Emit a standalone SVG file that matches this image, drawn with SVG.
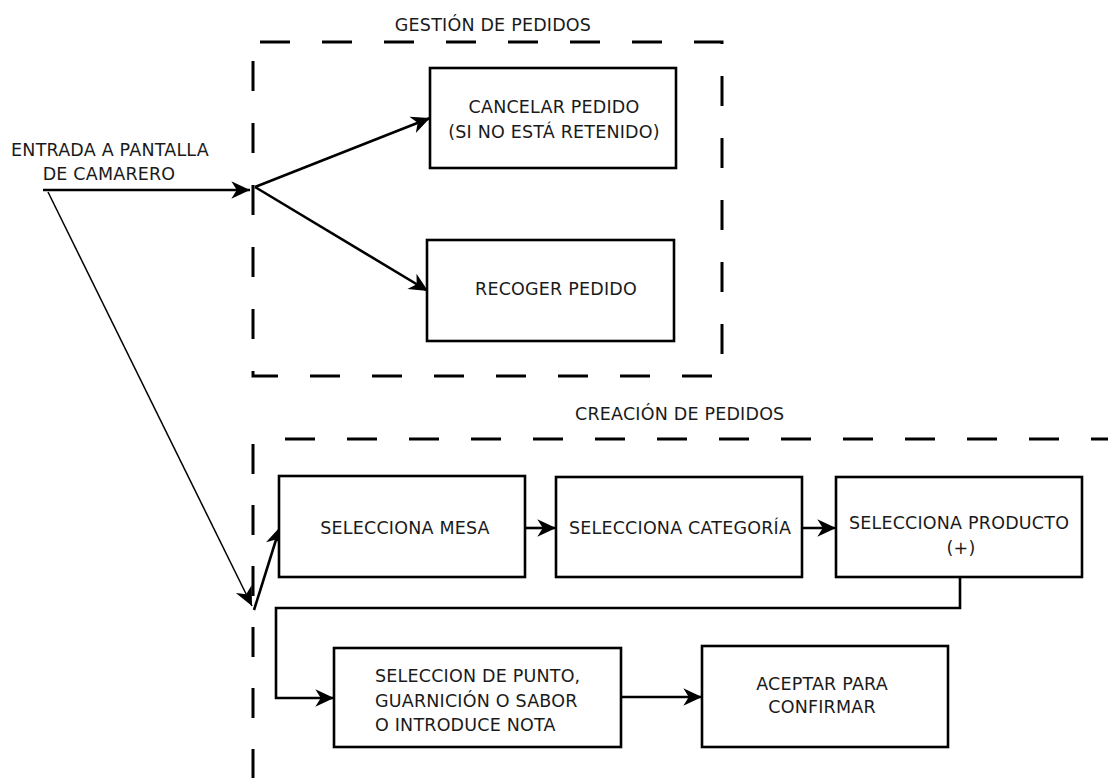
<svg xmlns="http://www.w3.org/2000/svg" width="1108" height="778" viewBox="0 0 1108 778">
  <style>
    text { font-family: "DejaVu Sans", Verdana, sans-serif; font-size: 17.5px; letter-spacing: 0.2px; fill: #1a1a1a; }
    .c { text-anchor: middle; }
    .box { fill: #ffffff; stroke: #000000; stroke-width: 2.6; }
    .zone { fill: none; stroke: #000000; stroke-width: 3; stroke-dasharray: 30 32; }
    .flow { fill: none; stroke: #000000; stroke-width: 2.6; marker-end: url(#head); }
    .thin { fill: none; stroke: #000000; stroke-width: 1.5; marker-end: url(#head); }
  </style>
  <defs>
    <marker id="head" markerUnits="userSpaceOnUse" markerWidth="22" markerHeight="22" viewBox="-19 -9 20 18" refX="0" refY="0" orient="auto">
      <path d="M0,0 L-17,-8 L-12,0 L-17,8 Z" fill="#000000"/>
    </marker>
  </defs>

  <rect width="1108" height="778" fill="#ffffff"/>

  <!-- dashed zones -->
  <g id="zones">
    <path class="zone" d="M260,42 H722 V376 H253 V42"/>
    <path class="zone" d="M285,439 H1108"/>
    <path class="zone" style="stroke-dasharray: 30 31" d="M253,444 V778"/>
    <text class="c" x="493" y="31">GESTIÓN DE PEDIDOS</text>
    <text x="575" y="420">CREACIÓN DE PEDIDOS</text>
  </g>

  <!-- connectors -->
  <g id="connectors">
    <path class="flow" d="M43,190 H250"/>
    <path class="flow" d="M255,187 L430,118"/>
    <path class="flow" d="M255,187 L428,291"/>
    <path class="thin" d="M48,192 L252,606"/>
    <path class="flow" d="M254,610 L280,527"/>
    <path class="flow" d="M525,528 H556"/>
    <path class="flow" d="M802,528 H836"/>
    <path class="flow" d="M960,577 V608 H276 V698 H334"/>
    <path class="flow" d="M621,697 H702"/>
  </g>

  <!-- nodes -->
  <g id="entrada">
    <text class="c" x="110" y="156">ENTRADA A PANTALLA</text>
    <text class="c" x="109" y="180">DE CAMARERO</text>
  </g>

  <g id="cancelar">
    <rect class="box" x="430" y="68" width="246" height="100"/>
    <text class="c" x="554" y="113">CANCELAR PEDIDO</text>
    <text class="c" x="554" y="138">(SI NO ESTÁ RETENIDO)</text>
  </g>

  <g id="recoger">
    <rect class="box" x="427" y="240" width="247" height="101"/>
    <text class="c" x="556" y="295">RECOGER PEDIDO</text>
  </g>

  <g id="mesa">
    <rect class="box" x="279" y="476" width="246" height="101"/>
    <text class="c" x="405" y="534">SELECCIONA MESA</text>
  </g>

  <g id="categoria">
    <rect class="box" x="556" y="477" width="246" height="100"/>
    <text class="c" x="680" y="534">SELECCIONA CATEGORÍA</text>
  </g>

  <g id="producto">
    <rect class="box" x="836" y="477" width="246" height="100"/>
    <text class="c" x="959" y="529">SELECCIONA PRODUCTO</text>
    <text class="c" x="961" y="554">(+)</text>
  </g>

  <g id="detalle">
    <rect class="box" x="334" y="648" width="287" height="99"/>
    <text x="375" y="682">SELECCION DE PUNTO,</text>
    <text x="375" y="707">GUARNICIÓN O SABOR</text>
    <text x="375" y="731">O INTRODUCE NOTA</text>
  </g>

  <g id="aceptar">
    <rect class="box" x="702" y="646" width="246" height="101"/>
    <text class="c" x="822" y="690">ACEPTAR PARA</text>
    <text class="c" x="822" y="713">CONFIRMAR</text>
  </g>
</svg>
